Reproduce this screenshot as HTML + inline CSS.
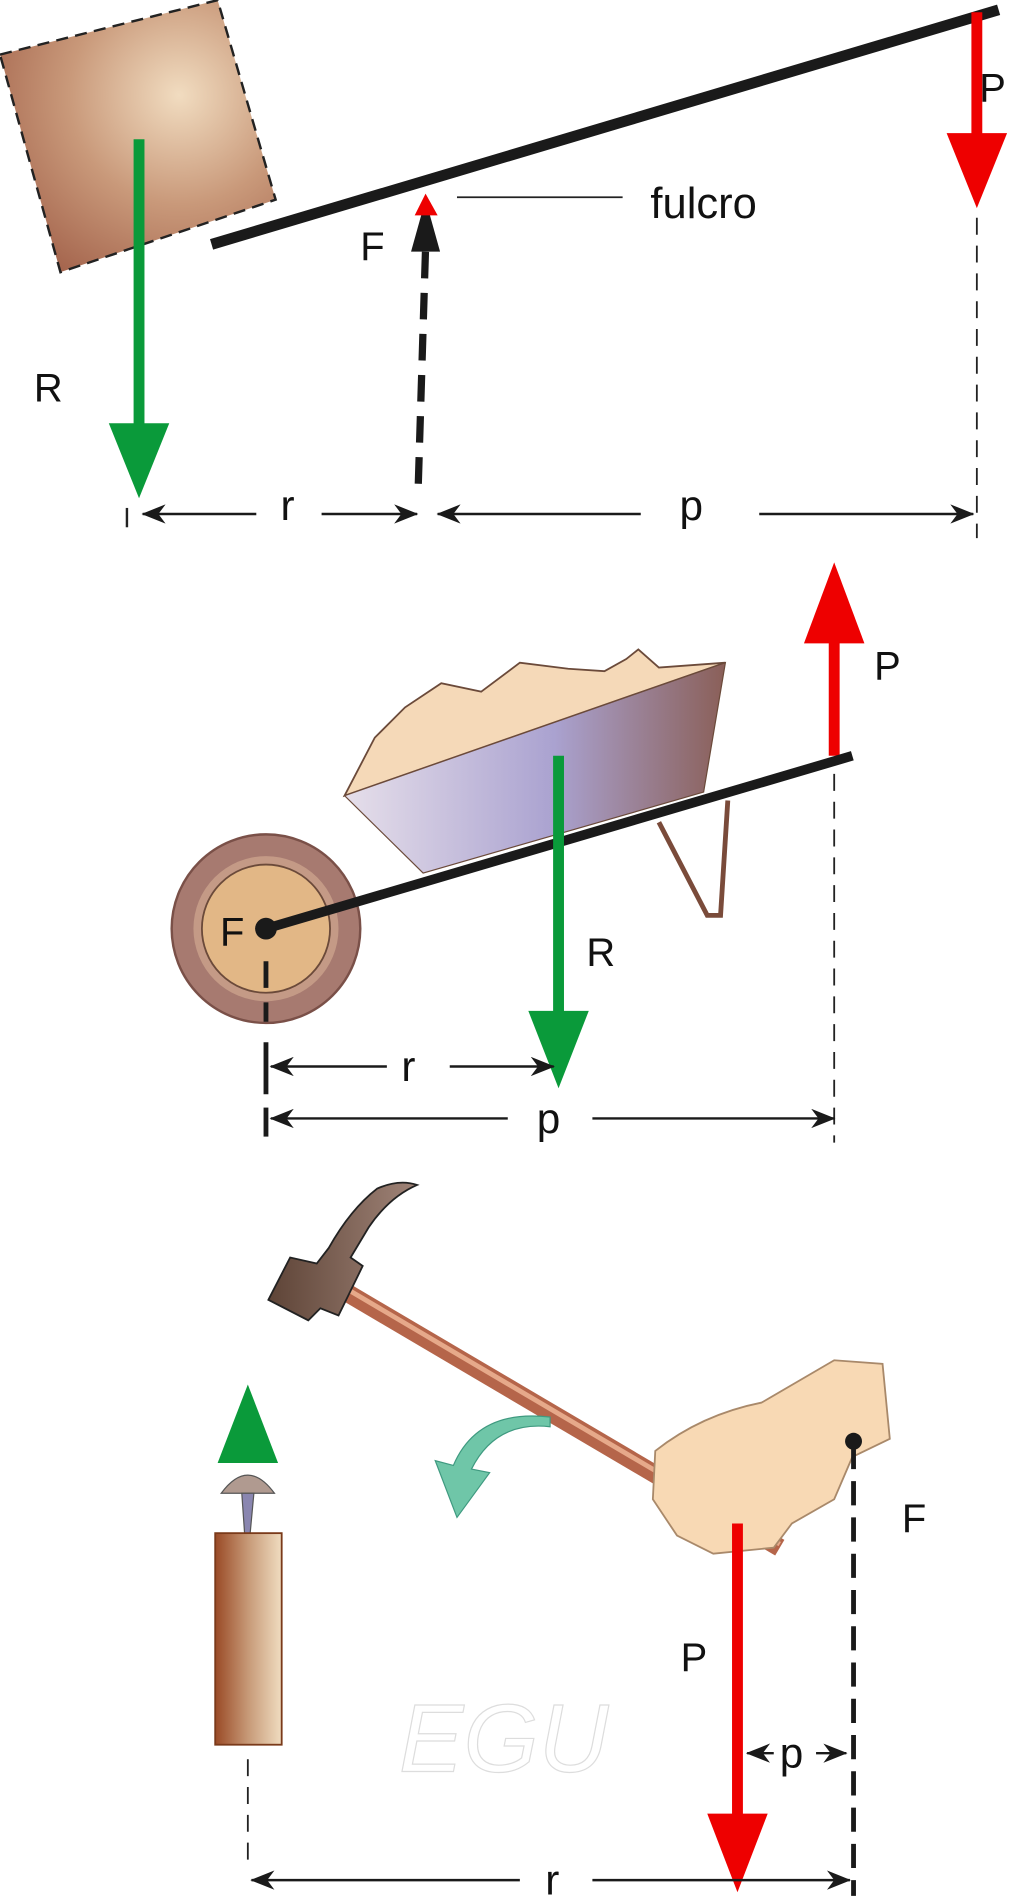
<!DOCTYPE html>
<html><head><meta charset="utf-8"><style>
html,body{margin:0;padding:0;background:#fff}
svg{display:block}
text{font-family:"Liberation Sans",sans-serif;fill:#111}
</style></head><body>
<svg width="1024" height="1896" viewBox="0 0 847 1568" xmlns="http://www.w3.org/2000/svg">
<defs>
<radialGradient id="wood" cx="0.65" cy="0.35" r="0.8">
<stop offset="0" stop-color="#f1dcc0"/><stop offset="0.5" stop-color="#c9997a"/><stop offset="1" stop-color="#a2614a"/>
</radialGradient>
<linearGradient id="tray" x1="0" x2="1">
<stop offset="0" stop-color="#e6dfea"/><stop offset="0.55" stop-color="#aaa2d0"/><stop offset="1" stop-color="#8a5f58"/>
</linearGradient>
<linearGradient id="blk" x1="0" x2="1">
<stop offset="0" stop-color="#9a4a26"/><stop offset="0.5" stop-color="#c79a78"/><stop offset="1" stop-color="#f0dcc0"/>
</linearGradient>
<linearGradient id="head" x1="0" x2="1"><stop offset="0" stop-color="#5e4437"/><stop offset="1" stop-color="#a08478"/></linearGradient>
<marker id="ah" viewBox="0 0 20 16" refX="19" refY="8" markerWidth="20" markerHeight="16" markerUnits="userSpaceOnUse" orient="auto">
<path d="M0,0 L20,8 L0,16 L6,8 Z" fill="#1a1a1a"/></marker>
</defs>

<!-- TOP -->
<polygon points="0,45 180,0 228,165 50,225" fill="url(#wood)" stroke="#222" stroke-width="2" stroke-dasharray="10,6"/>
<line x1="175" y1="202" x2="826" y2="8" stroke="#1a1a1a" stroke-width="9"/>
<line x1="115" y1="115" x2="115" y2="352" stroke="#0a9a3a" stroke-width="9"/>
<polygon points="90,350 140,350 115,412" fill="#0a9a3a"/>
<text x="28" y="332" font-size="33">R</text>
<line x1="346" y1="400" x2="352" y2="205" stroke="#1a1a1a" stroke-width="6" stroke-dasharray="22,12"/>
<polygon points="340,208 364,208 352,165 " fill="#1a1a1a"/>
<polygon points="343,178 362,178 352,160" fill="#e00"/>
<text x="298" y="215" font-size="33">F</text>
<line x1="378" y1="163" x2="515" y2="163" stroke="#222" stroke-width="1.5"/>
<text x="538" y="180" font-size="36">fulcro</text>
<line x1="808" y1="10" x2="808" y2="112" stroke="#e00" stroke-width="9"/>
<polygon points="783,110 833,110 808,172" fill="#e00"/>
<text x="810" y="84" font-size="33">P</text>
<line x1="808" y1="180" x2="808" y2="445" stroke="#222" stroke-width="1.5" stroke-dasharray="14,9"/>
<line x1="105" y1="420" x2="105" y2="436" stroke="#222" stroke-width="2"/>
<line x1="212" y1="425" x2="118" y2="425" stroke="#1a1a1a" stroke-width="2" marker-end="url(#ah)"/>
<line x1="266" y1="425" x2="345" y2="425" stroke="#1a1a1a" stroke-width="2" marker-end="url(#ah)"/>
<text x="232" y="430" font-size="35">r</text>
<line x1="530" y1="425" x2="362" y2="425" stroke="#1a1a1a" stroke-width="2" marker-end="url(#ah)"/>
<line x1="628" y1="425" x2="805" y2="425" stroke="#1a1a1a" stroke-width="2" marker-end="url(#ah)"/>
<text x="562" y="430" font-size="35">p</text>

<!-- MIDDLE -->
<line x1="690" y1="625" x2="690" y2="528" stroke="#e00" stroke-width="9"/>
<polygon points="665,532 715,532 690,465" fill="#e00"/>
<text x="723" y="562" font-size="33">P</text>
<polygon points="285,658 310,610 335,585 365,565 398,572 430,548 470,553 500,555 518,545 528,537 545,552 600,548" fill="#f5d9b8" stroke="#6b4a3a" stroke-width="1.5"/>
<polygon points="285,658 600,548 582,655 350,722" fill="url(#tray)" stroke="#6b4a3a" stroke-width="1"/>
<polyline points="545,680 585,757 596,757 602,662" fill="none" stroke="#7a4b3a" stroke-width="4"/>
<circle cx="220" cy="768" r="78" fill="#a77a70" stroke="#7a5048" stroke-width="2"/>
<circle cx="220" cy="768" r="60" fill="#c49a86"/>
<circle cx="220" cy="768" r="53" fill="#e2b786" stroke="#6b4a3a" stroke-width="1.5"/>
<line x1="220" y1="768" x2="705" y2="625" stroke="#1a1a1a" stroke-width="8"/>
<circle cx="220" cy="768" r="9" fill="#1a1a1a"/>
<text x="182" y="782" font-size="33">F</text>
<line x1="220" y1="795" x2="220" y2="845" stroke="#1a1a1a" stroke-width="4" stroke-dasharray="22,12"/>
<line x1="462" y1="625" x2="462" y2="838" stroke="#0a9a3a" stroke-width="9"/>
<polygon points="437,836 487,836 462,900" fill="#0a9a3a"/>
<text x="485" y="799" font-size="33">R</text>
<line x1="690" y1="640" x2="690" y2="945" stroke="#222" stroke-width="1.5" stroke-dasharray="14,9"/>
<line x1="220" y1="862" x2="220" y2="905" stroke="#1a1a1a" stroke-width="4"/>
<line x1="220" y1="916" x2="220" y2="940" stroke="#1a1a1a" stroke-width="4"/>
<line x1="320" y1="882" x2="224" y2="882" stroke="#1a1a1a" stroke-width="2" marker-end="url(#ah)"/>
<line x1="372" y1="882" x2="458" y2="882" stroke="#1a1a1a" stroke-width="2" marker-end="url(#ah)"/>
<text x="332" y="894" font-size="35">r</text>
<line x1="420" y1="925" x2="224" y2="925" stroke="#1a1a1a" stroke-width="2" marker-end="url(#ah)"/>
<line x1="490" y1="925" x2="690" y2="925" stroke="#1a1a1a" stroke-width="2" marker-end="url(#ah)"/>
<text x="444" y="937" font-size="35">p</text>

<!-- BOTTOM -->
<line x1="280" y1="1065" x2="645" y2="1280" stroke="#b5654a" stroke-width="15"/>
<line x1="280" y1="1062" x2="645" y2="1277" stroke="#e6a98a" stroke-width="4"/>
<path d="M222,1075 L240,1040 L262,1045 L272,1032 Q290,1000 312,983 Q330,975 345,980 Q322,990 305,1015 L290,1040 L300,1047 L280,1088 L265,1082 L255,1092 Z" fill="url(#head)" stroke="#222" stroke-width="1.5"/>
<path d="M542,1200 Q580,1170 630,1160 L690,1125 L730,1128 L736,1190 L705,1205 L690,1240 L655,1260 L640,1280 L590,1285 L560,1270 L540,1240 Z" fill="#f8d9b4" stroke="#a9896a" stroke-width="1.5"/>
<path d="M455,1180 Q410,1175 390,1215 L405,1218 L378,1255 L360,1208 L375,1212 Q395,1165 455,1172 Z" fill="#6fc6a8" stroke="#3f9a80" stroke-width="1"/>
<circle cx="706" cy="1192" r="7" fill="#1a1a1a"/>
<line x1="706" y1="1195" x2="706" y2="1568" stroke="#1a1a1a" stroke-width="4" stroke-dasharray="20,10"/>
<text x="746" y="1267" font-size="33">F</text>
<line x1="205" y1="1210" x2="205" y2="1180" stroke="#0a9a3a" stroke-width="9"/>
<polygon points="180,1210 230,1210 205,1145" fill="#0a9a3a"/>
<path d="M183,1235 Q205,1205 227,1235 Z" fill="#b09a90" stroke="#555" stroke-width="1"/>
<polygon points="200,1235 210,1235 206,1278 203,1278" fill="#8a86b0" stroke="#555" stroke-width="1"/>
<rect x="178" y="1268" width="55" height="175" fill="url(#blk)" stroke="#7a3a1a" stroke-width="1.5"/>
<line x1="610" y1="1260" x2="610" y2="1502" stroke="#e00" stroke-width="9"/>
<polygon points="585,1500 635,1500 610,1565" fill="#e00"/>
<text x="563" y="1382" font-size="33">P</text>
<text x="330" y="1465" font-size="80" font-style="italic" style="fill:none;stroke:#ddd;stroke-width:1" font-family="Liberation Serif">EGU</text>
<line x1="205" y1="1455" x2="205" y2="1545" stroke="#222" stroke-width="1.5" stroke-dasharray="14,9"/>
<line x1="640" y1="1450" x2="618" y2="1450" stroke="#1a1a1a" stroke-width="2" marker-end="url(#ah)"/>
<line x1="675" y1="1450" x2="700" y2="1450" stroke="#1a1a1a" stroke-width="2" marker-end="url(#ah)"/>
<text x="645" y="1462" font-size="35">p</text>
<line x1="430" y1="1555" x2="208" y2="1555" stroke="#1a1a1a" stroke-width="2" marker-end="url(#ah)"/>
<line x1="490" y1="1555" x2="703" y2="1555" stroke="#1a1a1a" stroke-width="2" marker-end="url(#ah)"/>
<text x="451" y="1567" font-size="35">r</text>
</svg>
</body></html>
